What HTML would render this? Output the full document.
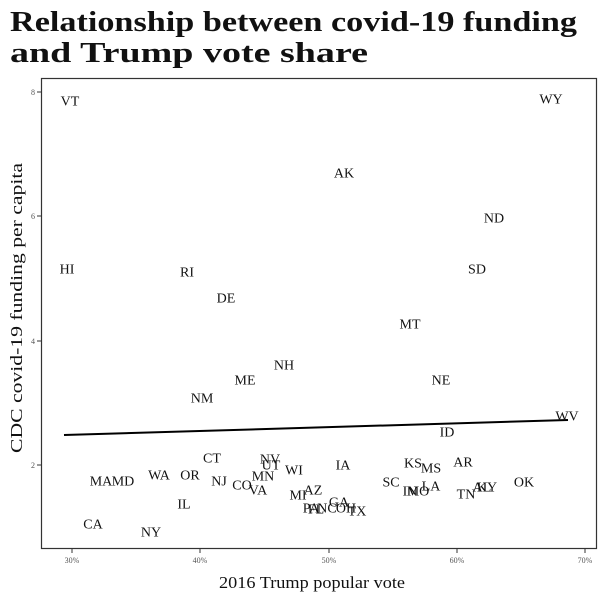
<!DOCTYPE html>
<html><head><style>
body{margin:0;background:#fff;}
svg text{font-family:"Liberation Serif",serif;}
</style></head><body>
<svg width="600" height="600" xmlns="http://www.w3.org/2000/svg">
<text x="10" y="31" font-size="29" font-weight="bold" fill="#111" textLength="567" lengthAdjust="spacingAndGlyphs">Relationship between covid-19 funding</text>
<text x="10" y="62" font-size="29" font-weight="bold" fill="#111" textLength="358" lengthAdjust="spacingAndGlyphs">and Trump vote share</text>
<rect x="41.5" y="78.5" width="555" height="470" fill="none" stroke="#333" stroke-width="1.2"/>
<g stroke="#333" stroke-width="1">
<line x1="37" y1="92" x2="41" y2="92"/><line x1="37" y1="216" x2="41" y2="216"/>
<line x1="37" y1="341" x2="41" y2="341"/><line x1="37" y1="465" x2="41" y2="465"/>
<line x1="72" y1="549" x2="72" y2="553"/><line x1="200" y1="549" x2="200" y2="553"/>
<line x1="329" y1="549" x2="329" y2="553"/><line x1="457" y1="549" x2="457" y2="553"/>
<line x1="585" y1="549" x2="585" y2="553"/>
</g>
<g font-size="8" fill="#555" text-anchor="end">
<text x="35" y="95">8</text><text x="35" y="219">6</text><text x="35" y="344">4</text><text x="35" y="468">2</text>
</g>
<g font-size="8" fill="#555" text-anchor="middle">
<text x="72" y="563">30%</text><text x="200" y="563">40%</text><text x="329" y="563">50%</text><text x="457" y="563">60%</text><text x="585" y="563">70%</text>
</g>
<text x="312" y="588" font-size="17" text-anchor="middle" fill="#111" textLength="186" lengthAdjust="spacingAndGlyphs">2016 Trump popular vote</text>
<text transform="translate(22,308) rotate(-90)" font-size="17" text-anchor="middle" fill="#111" textLength="290" lengthAdjust="spacingAndGlyphs">CDC covid-19 funding per capita</text>
<line x1="64" y1="435" x2="568" y2="420" stroke="#000" stroke-width="2"/>
<g font-size="14" fill="#111" text-anchor="middle" dominant-baseline="central">
<text x="70" y="102">VT</text><text x="551" y="100">WY</text><text x="344" y="174">AK</text>
<text x="494" y="219">ND</text><text x="67" y="270">HI</text><text x="187" y="273">RI</text>
<text x="477" y="270">SD</text><text x="226" y="299">DE</text><text x="410" y="325">MT</text>
<text x="284" y="366">NH</text><text x="245" y="381">ME</text><text x="441" y="381">NE</text>
<text x="202" y="399">NM</text><text x="567" y="417">WV</text><text x="447" y="433">ID</text>
<text x="212" y="459">CT</text><text x="270" y="460">NV</text><text x="271" y="466">UT</text>
<text x="294" y="471">WI</text><text x="343" y="466">IA</text><text x="413" y="464">KS</text>
<text x="431" y="469">MS</text><text x="463" y="463">AR</text><text x="263" y="477">MN</text>
<text x="101" y="482">MA</text><text x="123" y="482">MD</text><text x="159" y="476">WA</text>
<text x="190" y="476">OR</text><text x="219" y="482">NJ</text><text x="242" y="486">CO</text>
<text x="391" y="483">SC</text><text x="431" y="487">LA</text><text x="524" y="483">OK</text>
<text x="410" y="492">IN</text><text x="418" y="492">MO</text>
<text x="482" y="488">AL</text><text x="487" y="488">KY</text><text x="466" y="495">TN</text>
<text x="258" y="491">VA</text><text x="298" y="496">MI</text><text x="313" y="491">AZ</text>
<text x="339" y="503">GA</text><text x="311" y="509">PA</text><text x="316" y="510">FL</text>
<text x="327" y="509">NC</text><text x="346" y="509">OH</text><text x="357" y="512">TX</text>
<text x="184" y="505">IL</text><text x="93" y="525">CA</text><text x="151" y="533">NY</text>
</g>
</svg>
</body></html>
